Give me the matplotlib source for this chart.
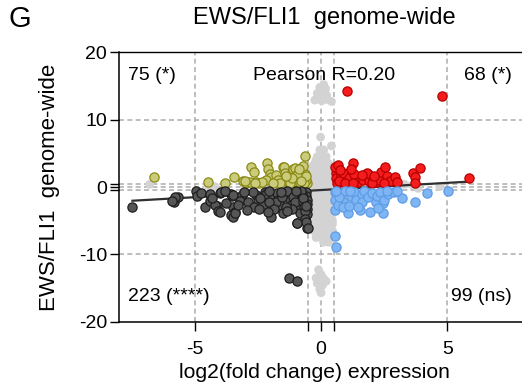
import matplotlib
matplotlib.use("Agg")
import matplotlib.pyplot as plt
import numpy as np

plt.rcParams['font.family'] = ['Liberation Sans', 'DejaVu Sans']

# ---------------- data ----------------
olive_x = [-6.63, -4.48, -3.82, -3.46, -3.09, -2.98, -2.76, -2.67, -2.56, -2.46,
           -2.16, -2.10, -2.03, -1.97, -2.19, -1.83, -1.51, -1.48, -1.44, -1.37,
           -1.21, -1.11, -1.04, -0.97, -0.78, -0.74, -0.65, -0.65, -0.58, -0.55,
           -1.57, -1.18, -1.77, -1.69, -2.35, -1.30, -0.90, -0.70, -2.80, -1.62,
           -0.85, -1.05, -0.62, -0.60, -1.90, -2.60, -3.00, -1.25, -0.95, -0.68,
           -0.72, -0.88, -1.15, -0.60, -0.80, -1.40]
olive_y = [1.44, 0.79, 0.55, 1.53, 0.94, 0.64, 2.93, 2.27, 0.79, 0.64,
           3.52, 2.63, 1.89, 1.44, 1.04, 0.79, 2.93, 3.02, 2.04, 1.29,
           1.93, 2.63, 2.78, 0.79, 2.42, 2.27, 4.61, 1.53, 0.79, 0.64,
           1.04, 1.04, 1.78, 1.04, 0.70, 0.70, 1.40, 1.20, 0.70, 0.65,
           0.60, 1.60, 2.00, 1.00, 0.62, 0.60, 0.85, 0.62, 1.85, 0.58,
           3.10, 2.60, 1.30, 1.60, 0.95, 1.70]

black_x = [-7.47, -5.84, -5.67, -5.80, -5.90, -4.96, -4.91, -4.74, -4.61, -4.41,
           -4.38, -4.14, -4.21, -4.08, -4.01, -4.01, -3.97, -3.55, -3.53, -3.49,
           -3.42, -3.55, -3.49, -3.49, -3.42, -3.15, -3.22, -2.89, -2.59, -2.50,
           -2.30, -2.23, -2.20, -1.97, -1.90, -1.93, -1.75, -1.70, -1.62, -1.51,
           -1.45, -1.30, -1.25, -1.20, -0.97, -0.97, -0.90, -0.84, -0.84, -0.60,
           -0.58, -0.56, -0.55, -0.55, -0.55, -0.55, -1.27, -0.97,
           -2.70, -2.40, -2.05, -1.80, -1.55, -1.35, -1.10, -1.05, -0.75, -0.70,
           -0.68, -0.62, -0.80, -1.00, -1.15, -1.40, -2.05, -2.65, -3.05, -3.80,
           -3.30, -0.65, -0.60, -0.97, -0.52,
           -4.30, -3.75, -2.95, -2.45, -1.85, -1.60, -0.72, -0.60, -2.10, -1.35]
black_y = [-3.02, -2.18, -1.44, -1.44, -2.08, -0.59, -1.34, -0.94, -3.02, -1.04,
           -2.08, -2.82, -2.67, -3.52, -3.67, -0.94, -0.79, -1.04, -1.29, -3.02,
           -3.67, -4.16, -4.50, -1.19, -3.91, -1.19, -2.03, -2.18, -1.19, -2.03,
           -2.67, -0.69, -1.10, -4.50, -1.40, -2.92, -0.85, -1.90, -2.60, -3.91,
           -1.20, -0.75, -1.90, -2.60, -5.40, -1.20, -1.90, -2.60, -3.91, -0.75,
           -1.30, -1.90, -2.50, -3.20, -4.01, -6.14, -13.47, -13.92,
           -0.70, -1.60, -0.65, -2.30, -1.50, -0.60, -1.50, -2.30, -1.00, -2.20,
           -3.00, -3.60, -0.60, -0.65, -3.30, -3.00, -2.20, -2.90, -0.70, -0.65,
           -2.60, -4.70, -5.20, -5.30, -6.14,
           -1.60, -2.40, -3.40, -3.20, -3.30, -0.70, -1.60, -2.80, -3.70, -3.60]

red_x = [0.61, 0.58, 0.60, 0.61, 0.80, 0.85, 1.00, 1.07, 1.27, 1.15,
         1.35, 1.45, 1.50, 1.65, 1.86, 1.90, 2.05, 2.20, 2.30, 2.39,
         2.52, 2.60, 2.72, 2.92, 3.65, 3.71, 3.71, 3.91, 5.85, 1.03,
         4.78, 0.54, 0.67, 0.87, 1.10, 1.30, 1.80, 1.60, 0.70, 0.95,
         1.25, 2.00, 2.50, 3.00, 0.75, 1.20, 2.10]
red_y = [3.02, 2.04, 1.30, 0.55, 1.60, 0.70, 1.90, 1.04, 3.52, 0.75,
         1.00, 0.70, 1.50, 1.00, 1.93, 0.90, 1.20, 0.80, 1.00, 2.27,
         2.93, 1.70, 0.94, 1.53, 2.13, 1.50, 0.55, 2.78, 1.38, 14.26,
         13.52, 2.93, 3.27, 2.04, 1.40, 2.00, 2.04, 1.80, 0.90, 0.60,
         0.60, 0.60, 0.65, 0.70, 2.50, 2.60, 1.60]

blue_x = [0.55, 0.54, 0.55, 0.80, 0.95, 0.87, 1.01, 1.07, 1.20, 1.30,
          1.40, 1.53, 1.60, 1.70, 1.60, 1.85, 1.93, 2.00, 2.19, 2.20,
          2.35, 2.46, 2.46, 2.50, 2.65, 2.90, 3.22, 3.71, 4.20, 5.01,
          0.54, 0.58, 0.65, 0.70, 0.85, 1.10, 1.45, 2.25, 0.60, 1.15,
          2.60, 3.00]
blue_y = [-0.69, -1.93, -3.42, -1.00, -0.65, -2.18, -2.92, -3.91, -1.40, -0.70,
          -2.00, -3.42, -1.00, -0.65, -2.18, -1.50, -3.67, -0.90, -2.18, -1.40,
          -0.75, -2.43, -3.81, -1.90, -1.10, -0.70, -1.68, -2.18, -0.94, -0.54,
          -7.28, -8.87, -2.60, -1.50, -3.00, -2.80, -3.00, -3.10, -0.60, -0.60,
          -0.60, -0.60]

gray_x = [-0.25, -0.10, 0.00, 0.08, 0.15, 0.25, 0.41, -0.05, 0.10, -0.02, 0.41,
          -0.05, 0.10, -0.15, 0.05, 0.20, -0.25, -0.05, 0.15, 0.30,
          -0.35, -0.15, 0.05, 0.25, 0.40, -0.45, -0.25, -0.05, 0.15, 0.35, 0.48,
          -0.50, -0.30, -0.10, 0.10, 0.30, 0.50, -0.50, -0.30, -0.10, 0.10, 0.30, 0.50,
          -0.50, -0.30, -0.10, 0.10, 0.30, 0.50, -0.50, -0.30, -0.10, 0.10, 0.30, 0.50,
          -0.45, -0.25, -0.05, 0.15, 0.35, -0.40, -0.20, 0.00, 0.20, 0.40,
          -0.35, -0.15, 0.05, 0.25, 0.45, -0.30, -0.10, 0.10, 0.30, 0.45,
          -0.20, 0.00, 0.20, 0.40, 0.10, 0.30,
          -0.40, -0.20, 0.00, 0.20, 0.40, -0.40, -0.20, 0.00, 0.20, 0.40,
          -0.40, -0.20, 0.00, 0.20, 0.40, -0.35, -0.15, 0.05, 0.25, 0.45,
          -0.25, -0.05, 0.15, 0.35, -0.20, 0.00, 0.20, 0.40,
          -0.10, 0.00, -0.20, 0.10, 0.20, -0.15, 0.05, -0.05, 0.00,
          -0.05, 0.12, 0.22, -0.15, 0.02, 0.18, -0.08, 0.08,
          -6.79, -4.21, -4.50, -3.00, -2.00, -1.50, -1.00, 1.00, 1.50, 2.00,
          2.99, 3.30, 3.84, 4.70, 2.50, 3.60]
gray_y = [12.9, 13.5, 13.7, 14.4, 13.2, 13.0, 12.7, 14.8, 15.2, 7.4, 6.1,
          5.5, 5.5, 4.5, 4.5, 4.5, 3.5, 3.5, 3.5, 3.5,
          2.5, 2.5, 2.5, 2.5, 2.5, 1.5, 1.5, 1.5, 1.5, 1.5, 1.5,
          0.5, 0.5, 0.5, 0.5, 0.5, 0.5, -0.5, -0.5, -0.5, -0.5, -0.5, -0.5,
          -1.5, -1.5, -1.5, -1.5, -1.5, -1.5, -2.5, -2.5, -2.5, -2.5, -2.5, -2.5,
          -3.5, -3.5, -3.5, -3.5, -3.5, -4.5, -4.5, -4.5, -4.5, -4.5,
          -5.5, -5.5, -5.5, -5.5, -5.5, -6.5, -6.5, -6.5, -6.5, -6.5,
          -7.5, -7.5, -7.5, -7.5, -8.2, -8.2,
          3.0, 2.0, 1.0, 0.0, -1.0, 2.0, 1.0, 0.0, -1.0, -2.0,
          -1.0, -2.0, -3.0, -4.0, -3.0, -4.0, -5.0, -6.0, -7.0, -5.0,
          -6.0, -7.0, -6.0, -5.0, 4.0, 5.0, 3.0, 2.0,
          -12.3, -13.0, -13.5, -13.6, -14.0, -14.3, -14.6, -15.2, -15.7,
          14.0, 14.1, 13.6, 13.9, 12.8, 14.6, 13.3, 13.0,
          0.40, 0.05, 0.10, 0.10, 0.00, 0.20, -0.10, 0.00, 0.20, 0.10,
          0.15, 0.40, -0.20, 0.05, -0.10, 0.30]

fit_slope = 0.213
fit_intercept = -0.45

counts_text = ["75 (*)", "68 (*)", "223 (****)", "99 (ns)"]
pearson_text = "Pearson R=0.20"
xticks = [-5, -0.5, 0, 0.5, 5]
xticklabels = ["-5", "", "0", "", "5"]
yticks = [-20, -10, -0.5, 0, 0.5, 10, 20]
yticklabels = ["-20", "-10", "", "0", "", "10", "20"]

# ---------------- figure ----------------
W, H = 522, 390
fig = plt.figure(figsize=(W / 100, H / 100), dpi=100)
ax = fig.add_axes([119 / W, (H - 321.7) / H, (523.2 - 119) / W, (321.7 - 52.3) / H])
ax.set_xlim(-8, 8)
ax.set_ylim(-20, 20)

dash = dict(color='#b3b3b3', lw=1.2, ls=(0, (3, 2)), zorder=1)
for xv in [-5, -0.5, 0, 0.5, 5]:
    ax.axvline(xv, **dash)
for yv in [-10, -0.5, 0, 0.5, 10]:
    ax.axhline(yv, **dash)

ax.scatter(gray_x, gray_y, s=40, c='#d3d3d3', edgecolors='none', zorder=2)

allx = np.array(olive_x + black_x + red_x + blue_x)
lx = np.array([allx.min(), allx.max()])
ax.plot(lx, fit_slope * lx + fit_intercept, color='#303030', lw=1.6, zorder=3)

ax.scatter(olive_x, olive_y, s=44, c='#cbcb7c', edgecolors='#8a8a14', linewidths=0.9, zorder=4)
ax.scatter(black_x, black_y, s=44, c='#565656', edgecolors='#1e1e1e', linewidths=0.9, zorder=4)
ax.scatter(red_x, red_y, s=44, c='#f41c1c', edgecolors='#b80000', linewidths=0.9, zorder=4)
ax.scatter(blue_x, blue_y, s=44, c='#7fb5f3', edgecolors='#5d9ce6', linewidths=0.9, zorder=4)

fs = 14
ax.text(-7.65, 16.6, counts_text[0], ha='left', va='center', fontsize=fs)
ax.text(7.56, 16.6, counts_text[1], ha='right', va='center', fontsize=fs)
ax.text(-7.65, -16.3, counts_text[2], ha='left', va='center', fontsize=fs)
ax.text(7.56, -16.3, counts_text[3], ha='right', va='center', fontsize=fs)
ax.text(0.1, 16.6, pearson_text, ha='center', va='center', fontsize=fs)

ax.set_xticks(xticks)
ax.set_xticklabels(xticklabels)
ax.set_yticks(yticks)
ax.set_yticklabels(yticklabels)
ax.tick_params(direction='out', length=6.5, width=1, labelsize=fs)
ax.tick_params(axis='x', pad=7.5)
ax.tick_params(axis='y', pad=2)

for s in ['left', 'bottom']:
    ax.spines[s].set_linewidth(1.1)
ax.spines['top'].set_linewidth(1.0)
ax.spines['right'].set_linewidth(1.0)

ax.set_xlabel("log2(fold change) expression", fontsize=15.2)
ax.xaxis.set_label_coords((314.5 - 119) / 404.2, (321.7 - 363) / 269.4)
ax.set_ylabel("EWS/FLI1  genome-wide", fontsize=16)
ax.yaxis.set_label_coords((60 - 119) / 404.2, 0.5)
fig.text(324 / W, 1 - 18 / H, "EWS/FLI1  genome-wide", ha='center', va='center', fontsize=17)
fig.text(8 / W, 1 - 19 / H, "G", ha='left', va='center', fontsize=21)

fig.savefig("out.png", dpi=100)
